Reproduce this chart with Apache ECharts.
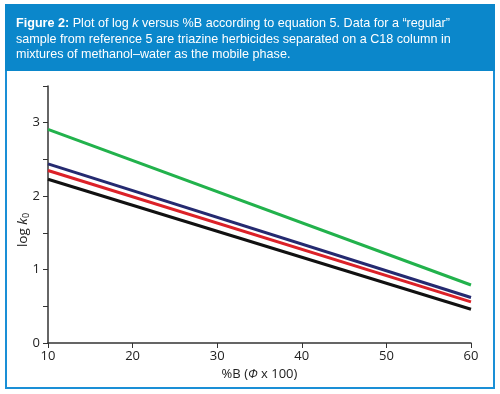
<!DOCTYPE html>
<html>
<head>
<meta charset="utf-8">
<script src="https://cdn.jsdelivr.net/npm/echarts@6/dist/echarts.min.js"></script>
<style>
html,body{margin:0;padding:0;background:#fff;}
#chart{width:500px;height:394px;}
</style>
</head>
<body>
<div id="chart"></div>
<script>
// Data
var percentB = [10, 60];
var greenSeries = [2.91, 0.79];
var blueSeries = [2.44, 0.62];
var redSeries = [2.35, 0.56];
var blackSeries = [2.23, 0.46];
var yTickLabels = ['0', '1', '2', '3'];
var xTickLabels = ['10', '20', '30', '40', '50', '60'];

function pairs(xs, ys) { return xs.map(function (x, i) { return [x, ys[i]]; }); }

var chart = echarts.init(document.getElementById('chart'), null, {renderer: 'canvas'});
var font = '"Liberation Sans", Arial, Helvetica, sans-serif';
var axisFont = '"Open Sans", "Noto Sans", sans-serif';

function mkLine(name, ys, color) {
  return {
    name: name, type: 'line', data: pairs(percentB, ys),
    symbol: 'none', lineStyle: {color: color, width: 3}, silent: true, animation: false
  };
}

chart.setOption({
  animation: false,
  graphic: [
    {type: 'rect', shape: {x: 6, y: 5, width: 488, height: 383},
     style: {fill: '#fff', stroke: '#1a8fd6', lineWidth: 2}, z: -10},
    {type: 'rect', shape: {x: 5, y: 4, width: 490, height: 67},
     style: {fill: '#0b87cb'}, z: -9},
    {type: 'text', left: 16, top: 16, z: 10,
     style: {
       text: '{b|Figure 2:} Plot of log {i|k} versus %B according to equation 5. Data for a \u201cregular\u201d\nsample from reference 5 are triazine herbicides separated on a C18 column in\nmixtures of methanol\u2013water as the mobile phase.',
       fill: '#fff', font: '12.6px ' + font, lineHeight: 15.5,
       rich: {
         b: {fill: '#fff', fontWeight: 'bold', fontSize: 12.6, fontFamily: font, lineHeight: 15.5},
         i: {fill: '#fff', fontStyle: 'italic', fontSize: 12.6, fontFamily: font, lineHeight: 15.5}
       }
     }},
    {type: 'text', x: 23, y: 230, rotation: Math.PI / 2, z: 10,
     style: {
       text: 'log {i|k}{s|0}', fill: '#222', font: '13.5px ' + axisFont,
       align: 'center', verticalAlign: 'middle',
       rich: {
         i: {fontStyle: 'italic', fontSize: 13.5, fontFamily: axisFont, fill: '#222'},
         s: {fontSize: 9, fontFamily: axisFont, fill: '#222', verticalAlign: 'bottom', padding: [6, 0, 0, 0]}
       }
     }}
  ],
  grid: {left: 48, right: 29, top: 86, bottom: 51, containLabel: false},
  xAxis: {
    type: 'value', min: 10, max: 60, interval: 10,
    axisLine: {show: true, onZero: false, lineStyle: {color: '#333', width: 1.5}},
    axisTick: {show: true, length: 5, lineStyle: {color: '#333'}},
    splitLine: {show: false},
    axisLabel: {color: '#222', fontSize: 13, fontFamily: axisFont, margin: 7,
      formatter: function (v) { var s = String(v); return xTickLabels.indexOf(s) >= 0 ? s : ''; }},
    name: '%B ({i|\u03A6} x 100)', nameLocation: 'middle', nameGap: 21,
    nameTextStyle: {color: '#222', fontSize: 13, fontFamily: axisFont,
      rich: {i: {fontStyle: 'italic', fontSize: 13, fontFamily: axisFont, color: '#222'}}}
  },
  yAxis: {
    type: 'value', min: 0, max: 3.5, interval: 0.5,
    axisLine: {show: true, onZero: false, lineStyle: {color: '#333', width: 1.5}},
    axisTick: {show: true, length: 5, lineStyle: {color: '#333'}},
    splitLine: {show: false},
    axisLabel: {color: '#222', fontSize: 13, fontFamily: axisFont, margin: 8,
      formatter: function (v) { var s = String(v); return yTickLabels.indexOf(s) >= 0 ? s : ''; }}
  },
  series: [
    mkLine('black', blackSeries, '#111111'),
    mkLine('red', redSeries, '#dc2128'),
    mkLine('blue', blueSeries, '#252a70'),
    mkLine('green', greenSeries, '#22b24c')
  ]
});
</script>
</body>
</html>
